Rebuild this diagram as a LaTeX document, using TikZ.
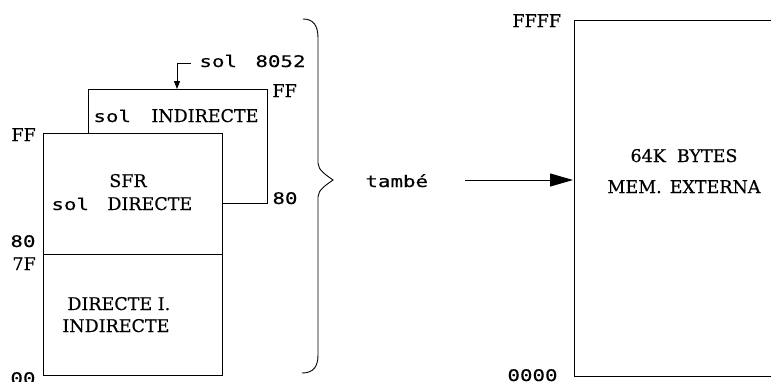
\documentclass[tikz,border=0pt]{standalone}
\usepackage{fontspec}
\setmainfont[FakeBold=0.5]{DejaVu Serif}
\newfontfamily\monof[FakeStretch=1.3,FakeBold=0.4]{DejaVu Sans Mono}
\usetikzlibrary{arrows.meta}
\begin{document}
\begin{tikzpicture}[x=1pt,y=-1pt,line width=0.9pt,
  lab/.style={anchor=base west,inner sep=0pt,font=\fontsize{17.5}{20}\selectfont},
  mlab/.style={anchor=base west,inner sep=0pt,font=\monof\fontsize{16}{18}\selectfont},
  clab/.style={anchor=base,inner sep=0pt,font=\fontsize{17.5}{20}\selectfont}]
\useasboundingbox[fill=white] (0,0) rectangle (771,381);
% back box (indirect upper RAM)
\draw[fill=white] (88,89) rectangle (267,203);
% front box
\draw[fill=white] (43,133) rectangle (222,375);
\draw (43,254) -- (222,254);
% labels of left part
\node[lab] (ffback) at (272,97) {FF};
\node[mlab] (eightyback) at (272,204) {80};
\node[lab] (fffront) at (11,141) {FF};
\node[mlab] (eighty) at (10,247) {80};
\node[lab] (sevf) at (12,270) {7F};
\node[mlab] (zz) at (10,384) {00};
\node[mlab] (sol1) at (93,122) {sol};
\node[lab] (indir) at (151,122) {INDIRECTE};
\node[clab] (sfr) at (128,187) {SFR};
\node[mlab] (sol2) at (51,210) {sol};
\node[lab] (dir) at (107,210) {DIRECTE};
\node[lab] (dir2) at (67,310) {DIRECTE I.};
\node[lab] (indir2) at (62,332) {INDIRECTE};
\node[mlab] (sol3) at (199,67) {sol};
\node[mlab] (addr) at (255,67) {8052};
% arrow to back box
\coordinate (arrstart) at (191,63);
\coordinate (backtop) at (177,89);
\draw[-{Triangle[length=8pt,width=6pt]}] (arrstart) -| (backtop);
% brace
\draw (303,19) .. controls (313,19) and (318,25) .. (318,38)
  -- (318,163) .. controls (318,170) and (326,175) .. (333,180)
  .. controls (326,185) and (318,190) .. (318,197)
  -- (318,355) .. controls (318,367) and (313,373) .. (302,373);
% right part
\node[mlab] (tambe) at (365,187) {també};
\coordinate (arrA) at (465,180);
\coordinate (arrB) at (573,180);
\draw[line width=1pt,-{Triangle[length=23pt,width=13pt]}] (arrA) -- (arrB);
\draw (771,20) -- (574,20) -- (574,376) -- (771,376);
\node[lab] (ffff) at (512,27) {FFFF};
\node[mlab] (zeros) at (507,381) {0000};
\node[clab] (bytes) at (684,162) {64K\hspace{11pt}BYTES};
\node[clab] (mem) at (684,193) {MEM.\hspace{8pt}EXTERNA};
\end{tikzpicture}
\end{document}
